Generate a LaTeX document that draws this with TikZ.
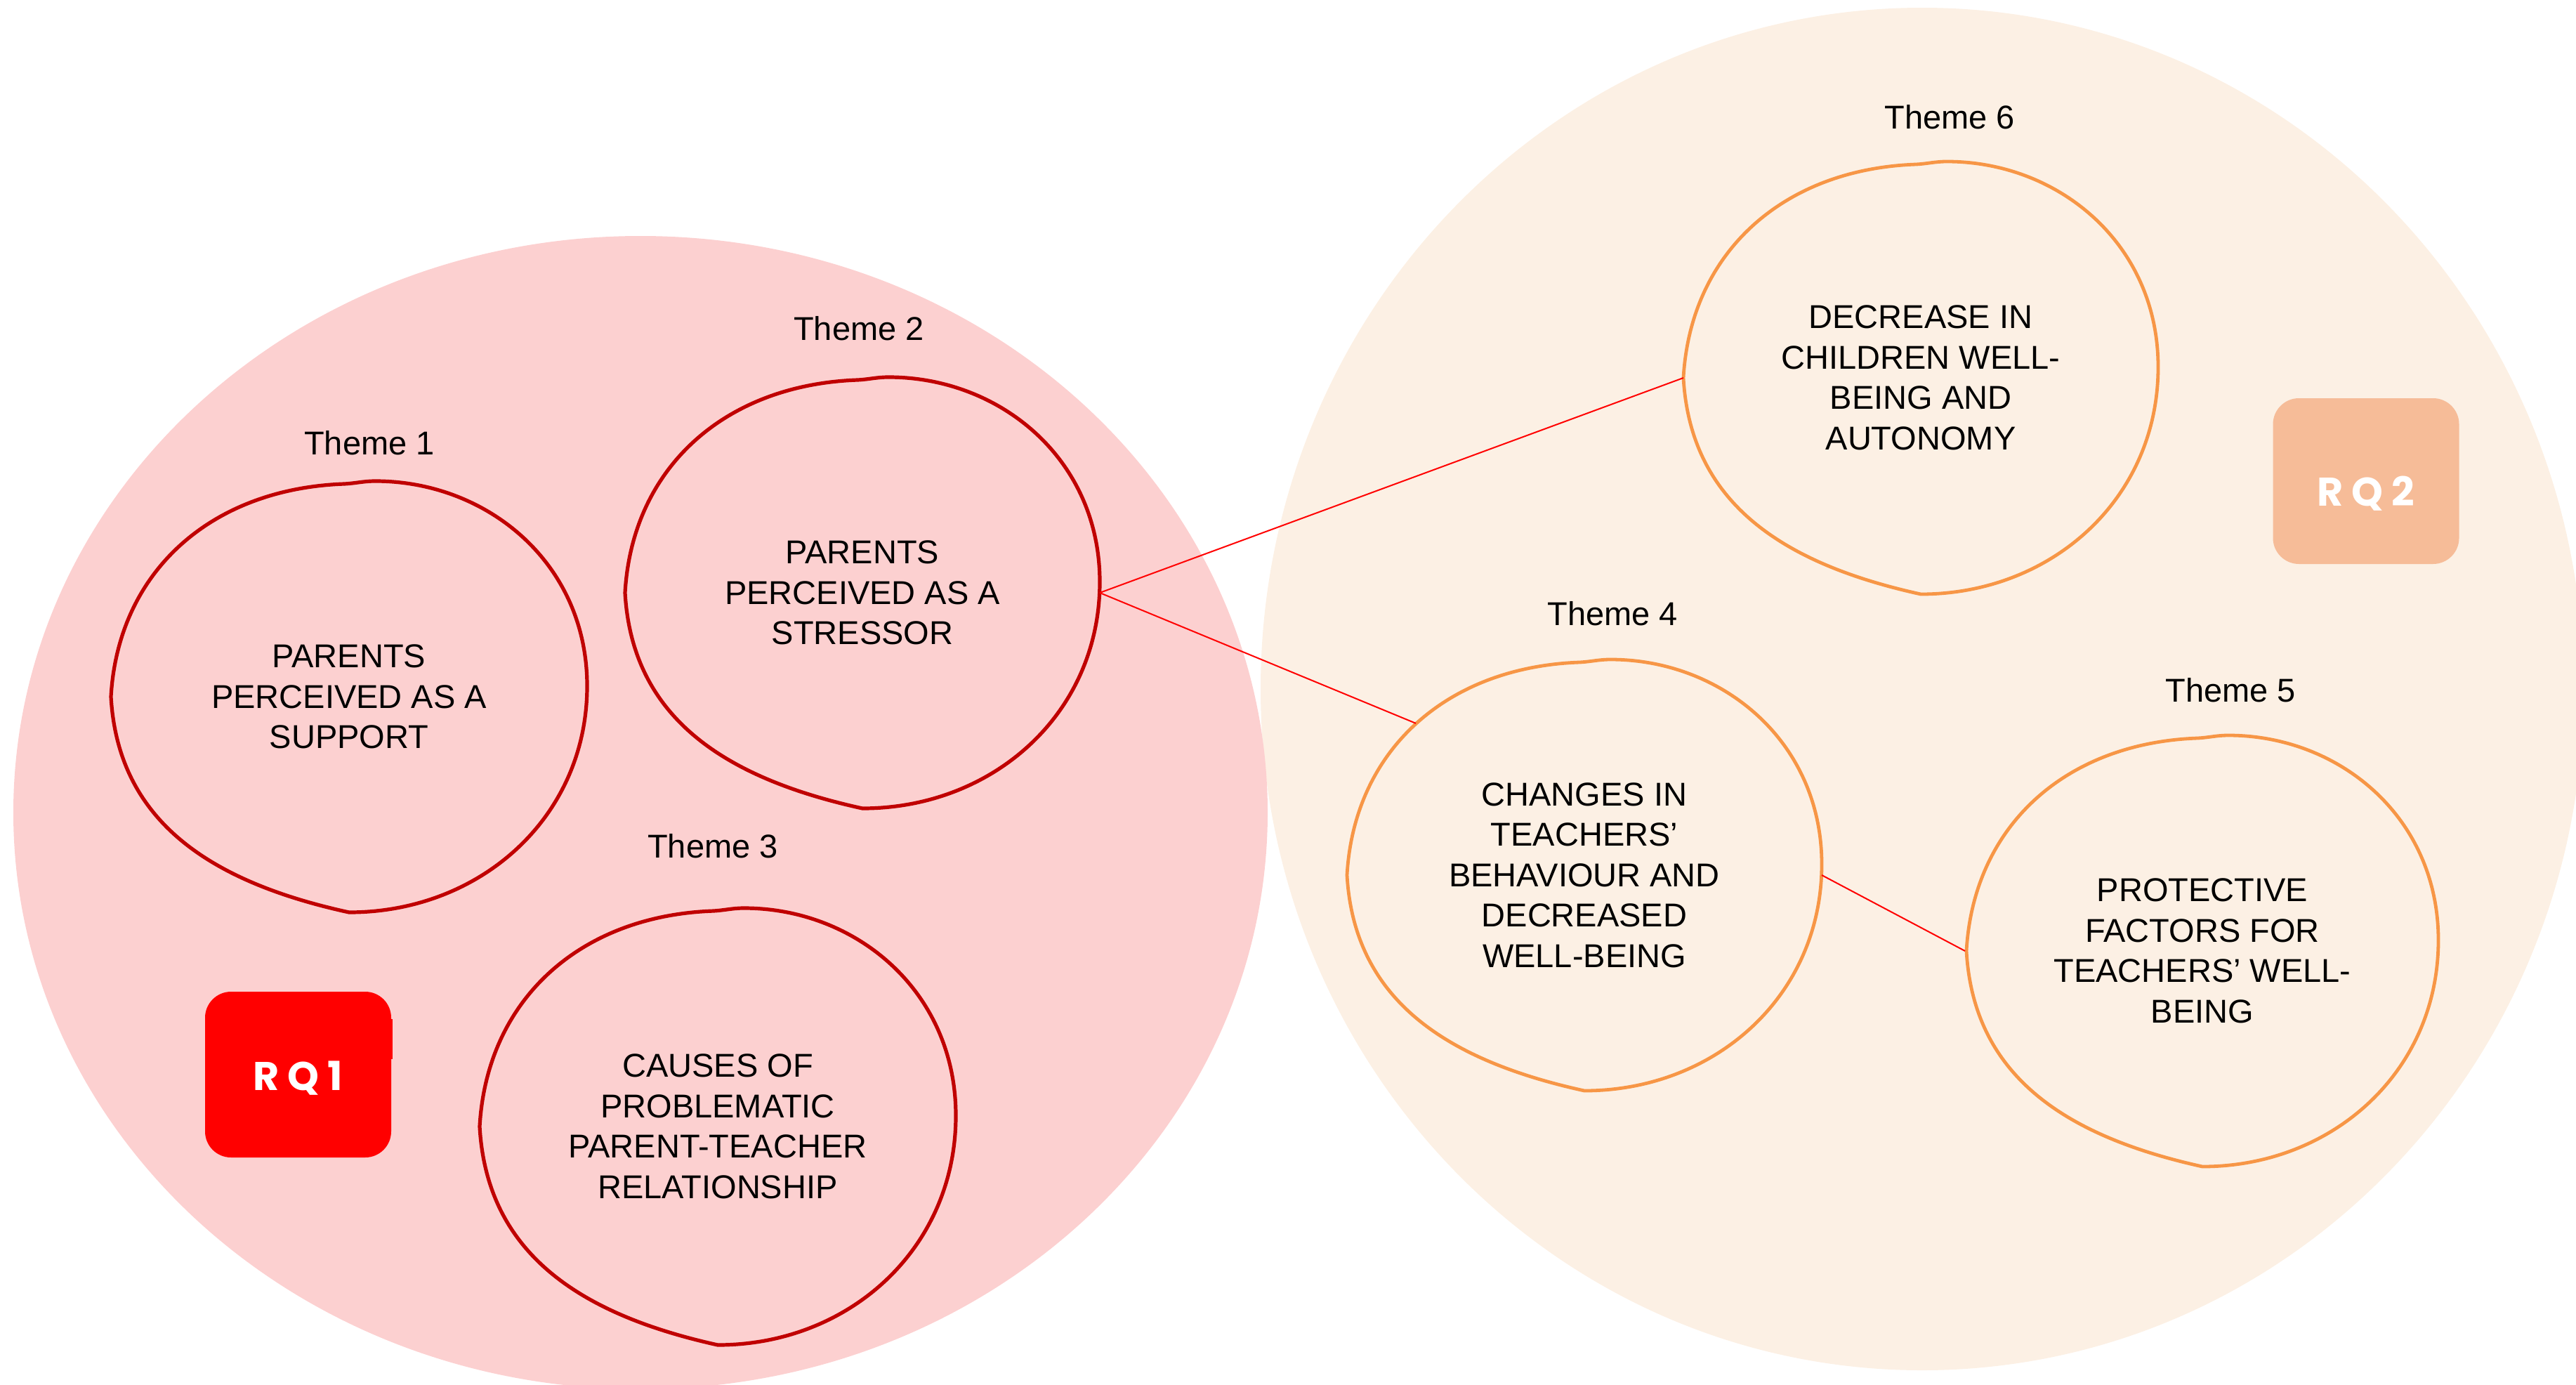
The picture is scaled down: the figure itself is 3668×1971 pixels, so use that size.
\documentclass[tikz,border=0pt]{standalone}
\usepackage{fontspec}
\setmainfont{Liberation Sans}
\newfontfamily\rqfont{Poppins}
\usetikzlibrary{shapes.geometric}

\definecolor{rqonezone}{HTML}{FCD0D0}
\definecolor{rqtwozone}{HTML}{FCF0E4}
\definecolor{blobred}{HTML}{C00000}
\definecolor{bloborange}{HTML}{F79646}
\definecolor{linkred}{HTML}{FF0000}
\definecolor{rqonefill}{HTML}{FF0000}
\definecolor{rqtwofill}{HTML}{F6BC98}

\tikzset{
  theme/.style={ellipse, minimum width=338pt, minimum height=307pt,
    inner sep=0pt, outer sep=0pt, align=center,
    font=\fontsize{23.5pt}{28.75pt}\selectfont},
  themelabel/.style={inner sep=0pt, font=\fontsize{23.5pt}{28.75pt}\selectfont},
  conn/.style={draw=linkred, line width=1pt},
  redblob/.style={draw=blobred, line width=2.6pt, line join=round},
  orangeblob/.style={draw=bloborange, line width=2.4pt, line join=round},
  rqbox/.style={rectangle, rounded corners=18.5pt, inner sep=0pt,
    minimum width=132.5pt, minimum height=118pt, text=white,
    font=\rqfont\bfseries\fontsize{28.5pt}{28.5pt}\selectfont}
}

% hand-drawn circle around a theme: centre x, centre y, half width, half height, style
\newcommand\themeblob[5]{%
  \begin{scope}[shift={(#1,#2)}, xscale=#3, yscale=#4]
    \draw[#5] (0.11,-1.0)
      .. controls (0.06,-1.0) and (0.03,-0.99) .. (-0.02,-0.987)
      .. controls (-0.58,-0.965) and (-0.97,-0.58) .. (-1,0.0)
      .. controls (-0.97,0.58) and (-0.58,0.86) .. (0,1)
      .. controls (0.55,1.0) and (1.0,0.56) .. (1,-0.05)
      .. controls (1.0,-0.62) and (0.58,-1.0) .. (0.11,-1.0) -- cycle;
  \end{scope}}

\begin{document}
\begin{tikzpicture}[x=0.5pt, y=-0.5pt]
  \useasboundingbox (0,0) rectangle (3668,1971);
  \clip (0,0) rectangle (3668,1971);

  % research question zones
  \fill[rqtwozone] (2737,981) ellipse [x radius=942, y radius=970];
  \fill[rqonezone] (912,1157) ellipse [x radius=893, y radius=821];

  % RQ1 themes
  \themeblob{497}{992}{339}{307}{redblob}
  \node[theme] (t1) at (497,992) {PARENTS\\PERCEIVED AS A\\SUPPORT};
  \themeblob{1228}{844}{338}{307}{redblob}
  \node[theme] (t2) at (1228,844) {PARENTS\\PERCEIVED AS A\\STRESSOR};
  \themeblob{1022}{1604}{339}{311}{redblob}
  \node[theme] (t3) at (1022,1604) {CAUSES OF\\PROBLEMATIC\\PARENT-TEACHER\\RELATIONSHIP};

  % RQ2 themes
  \themeblob{2735}{538}{338}{308}{orangeblob}
  \node[theme] (t6) at (2735,538) {DECREASE IN\\CHILDREN WELL-\\BEING AND\\AUTONOMY};
  \themeblob{2256}{1246}{338}{307}{orangeblob}
  \node[theme] (t4) at (2256,1246) {CHANGES IN\\TEACHERS’\\BEHAVIOUR AND\\DECREASED\\WELL-BEING};
  \themeblob{3136}{1354}{336}{307}{orangeblob}
  \node[theme] (t5) at (3136,1354) {PROTECTIVE\\FACTORS FOR\\TEACHERS’ WELL-\\BEING};

  % theme labels
  \node[themelabel] (lab1) at (526,631) {Theme 1};
  \node[themelabel] (lab2) at (1223,468) {Theme 2};
  \node[themelabel] (lab3) at (1015,1205) {Theme 3};
  \node[themelabel] (lab4) at (2296,874) {Theme 4};
  \node[themelabel] (lab5) at (3176,983) {Theme 5};
  \node[themelabel] (lab6) at (2776,167) {Theme 6};

  % links between themes
  \draw[conn] (t2.east) -- (t6.west);
  \draw[conn] (t2.east) -- (t4.138);
  \draw[conn] (t4.east) -- (t5.west);

  % research question tags
  \fill[rqonefill] (550,1451) rectangle (559,1508);
  \node[rqbox, fill=rqonefill, text height=22pt, text depth=0pt] (rq1) at (424.5,1530) {R Q 1};
  \node[rqbox, fill=rqtwofill, text height=35pt, text depth=0pt] (rq2) at (3369,685) {R Q 2};
\end{tikzpicture}
\end{document}
